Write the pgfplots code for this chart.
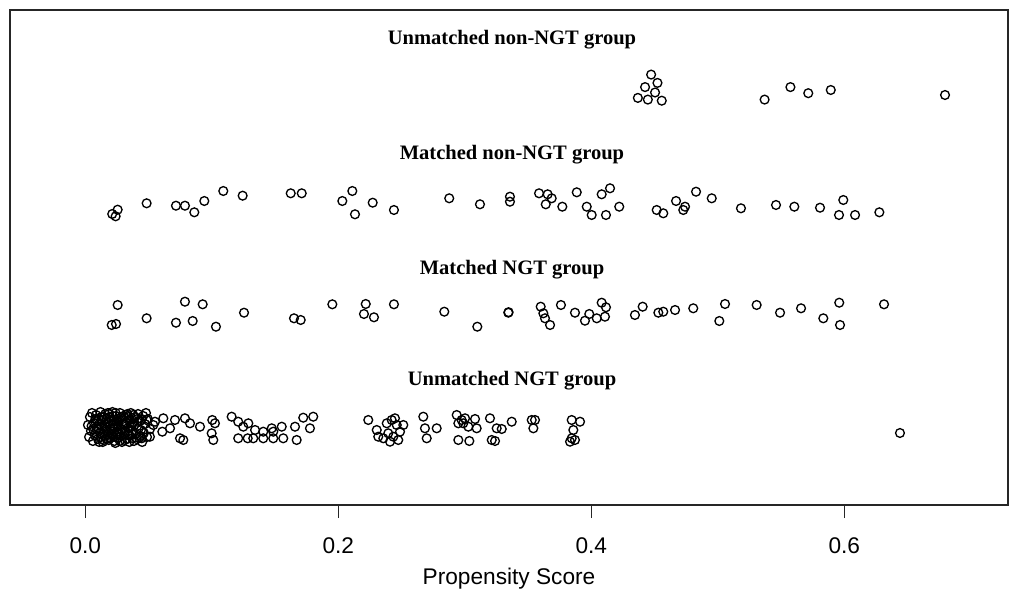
\documentclass[border=0pt]{standalone}
\usepackage{pgfplots}
\pgfplotsset{compat=1.18}
\usepackage{fontspec}
\setmainfont{Liberation Sans}
\newfontfamily\titlefont{Liberation Serif}
\pgfplotsset{jit/.style={only marks, mark=o, mark size=3.3pt, black, mark options={line width=1pt, solid}}}
\begin{document}
\begin{tikzpicture}
\path[use as bounding box] (-7.5pt,-63pt) rectangle (752.25pt,378.75pt);
\begin{axis}[
  anchor=south west, at={(0pt,0pt)},
  scale only axis, width=748.5pt, height=371.25pt,
  xmin=-0.0595, xmax=0.7294, ymin=0, ymax=495,
  ytick=\empty,
  xtick={0,0.2,0.4,0.6}, xticklabels={0.0,0.2,0.4,0.6},
  xtick pos=bottom, tick align=outside, major tick length=9.75pt,
  tick style={black!85, line width=0.8pt},
  axis line style={black!85, line width=0.9pt},
  xticklabel style={font=\fontsize{17}{20}\selectfont, anchor=center, yshift=-21pt},
  xlabel={Propensity Score},
  xlabel style={font=\fontsize{17}{20}\selectfont, at={(axis description cs:0.5,0)}, anchor=center, yshift=-55.5pt},
  clip=false,
]
% Unmatched non-NGT group
\addplot[jit] table {
x y
0.4473 430.4
0.4523 422.1
0.4425 417.9
0.4504 412.5
0.4368 407.1
0.4447 405.4
0.4557 404.3
0.5370 405.4
0.5574 417.9
0.5715 411.8
0.5893 415
0.6796 410
};
% Matched non-NGT group
\addplot[jit] table {
x y
0.0213 291
0.0256 295.3
0.0240 288.7
0.0485 301.7
0.0717 299.3
0.0788 299.3
0.0862 292.7
0.0941 304
0.1091 314
0.1244 309.3
0.1624 311.7
0.1711 311.7
0.2032 304
0.2111 314
0.2132 290.7
0.2272 302.3
0.2440 295
0.2877 306.7
0.3120 300.7
0.3357 308.3
0.3357 303.3
0.3587 311.7
0.3655 310.7
0.3687 306.7
0.3640 300.7
0.3771 298.3
0.3885 312.7
0.3964 298.3
0.4003 290
0.4082 310.7
0.4148 316.7
0.4116 290
0.4221 298.3
0.4517 295
0.4569 291.7
0.4670 304
0.4741 298.3
0.4727 295
0.4828 313.3
0.4952 306.7
0.5183 296.7
0.5460 300
0.5605 298.3
0.5808 297.3
0.5992 305
0.5958 290
0.6085 290
0.6277 292.7
};
% Matched NGT group
\addplot[jit] table {
x y
0.0256 200
0.0209 180
0.0243 181
0.0485 186.7
0.0717 182.3
0.0788 203.3
0.0849 184
0.0928 200.7
0.1033 178.3
0.1255 192.3
0.1650 186.7
0.1703 185
0.1953 200.7
0.2217 201
0.2203 191
0.2282 187.7
0.2440 200.7
0.2838 193.3
0.3099 178.3
0.3344 192.3
0.3346 192.8
0.3600 198.3
0.3621 191.7
0.3634 186.7
0.3674 180
0.3760 200
0.3871 192.3
0.3950 184.3
0.3984 191
0.4043 186.7
0.4082 202.3
0.4116 197.7
0.4108 188.3
0.4345 190
0.4406 198.3
0.4530 192.3
0.4569 193.3
0.4662 195
0.4806 196.7
0.5057 201
0.5012 184
0.5307 200
0.5492 192.3
0.5658 196.7
0.5834 186.7
0.5960 202.3
0.5966 180
0.6314 200.7
};
% Unmatched NGT group
\addplot[jit] table {
x y
0.0021 80
0.0030 68
0.0037 88
0.0045 74
0.0053 92
0.0060 64
0.0069 82
0.0075 70
0.0085 90
0.0090 76
0.0100 66
0.0105 86
0.0116 72
0.0120 93
0.0132 79
0.0138 63
0.0148 88
0.0152 69
0.0164 83
0.0170 74
0.0179 92
0.0185 65
0.0195 78
0.0200 87
0.0211 70
0.0215 93
0.0227 81
0.0230 64
0.0243 89
0.0248 73
0.0259 67
0.0262 84
0.0274 92
0.0280 76
0.0290 63
0.0295 86
0.0306 71
0.0310 80
0.0322 90
0.0328 66
0.0338 77
0.0345 85
0.0353 69
0.0360 92
0.0369 74
0.0375 82
0.0385 64
0.0393 88
0.0400 71
0.0410 79
0.0417 91
0.0425 67
0.0433 84
0.0440 75
0.0450 63
0.0458 89
0.0464 72
0.0472 81
0.0488 68
0.0495 86
0.0512 76
0.0050 79
0.0095 84
0.0125 68
0.0158 91
0.0190 72
0.0222 76
0.0237 62
0.0252 79
0.0268 71
0.0285 88
0.0300 81
0.0318 74
0.0333 91
0.0348 63
0.0365 79
0.0380 90
0.0405 66
0.0420 76
0.0445 86
0.0480 92
0.0172 66
0.0208 84
0.0240 92
0.0273 64
0.0102 77
0.0112 81
0.0128 88
0.0142 74
0.0155 79
0.0168 86
0.0176 70
0.0182 82
0.0193 88
0.0198 67
0.0205 76
0.0218 89
0.0224 68
0.0233 78
0.0246 84
0.0255 71
0.0265 79
0.0277 87
0.0283 69
0.0292 75
0.0303 89
0.0313 65
0.0325 82
0.0336 70
0.0342 88
0.0356 78
0.0372 67
0.0388 80
0.0412 86
0.0436 69
0.0062 76
0.0080 86
0.0110 63
0.0145 65
0.0188 91
0.0485 85
0.0538 80
0.0446 66.7
0.0511 68.3
0.0609 73.3
0.0551 83.3
0.0617 86.7
0.0670 76.7
0.0709 85
0.0749 66.7
0.0775 65
0.0788 86.7
0.0828 81.7
0.0907 78.3
0.1004 85
0.1025 81.7
0.0999 71.7
0.1012 65
0.1157 88.3
0.1209 83.3
0.1249 78.3
0.1209 66.7
0.1289 81.7
0.1284 66.7
0.1342 75
0.1328 66.7
0.1407 73.3
0.1407 66.7
0.1474 76.7
0.1486 73.3
0.1486 66.7
0.1553 78.3
0.1565 66.7
0.1658 78.3
0.1671 65
0.1723 87.3
0.1802 88.3
0.1776 76.7
0.2237 85
0.2304 75
0.2316 68.3
0.2383 81.7
0.2422 85
0.2448 86.7
0.2462 80
0.2395 71.7
0.2356 66.7
0.2435 68.3
0.2488 73.3
0.2514 80
0.2474 65
0.2409 63.3
0.2672 88.3
0.2685 76.7
0.2699 66.7
0.2778 76.7
0.2936 90
0.2975 85
0.2949 81.7
0.3002 86.7
0.2988 81.7
0.3028 78.3
0.3081 86
0.3094 76.7
0.2949 65
0.3036 64
0.3199 86.7
0.3252 76.7
0.3292 76
0.3213 65
0.3239 64
0.3371 83.3
0.3529 85
0.3555 85
0.3542 76.7
0.3845 85
0.3911 83.3
0.3858 75
0.3845 66.7
0.3871 65
0.3832 63.3
0.6440 72
};
\node[font=\titlefont\bfseries\fontsize{15.4}{18}\selectfont] at (axis cs:0.3373,465) {Unmatched non-NGT group};
\node[font=\titlefont\bfseries\fontsize{15.4}{18}\selectfont] at (axis cs:0.3373,350) {Matched non-NGT group};
\node[font=\titlefont\bfseries\fontsize{15.4}{18}\selectfont] at (axis cs:0.3373,235) {Matched NGT group};
\node[font=\titlefont\bfseries\fontsize{15.4}{18}\selectfont] at (axis cs:0.3373,124) {Unmatched NGT group};
\end{axis}
\end{tikzpicture}
\end{document}
